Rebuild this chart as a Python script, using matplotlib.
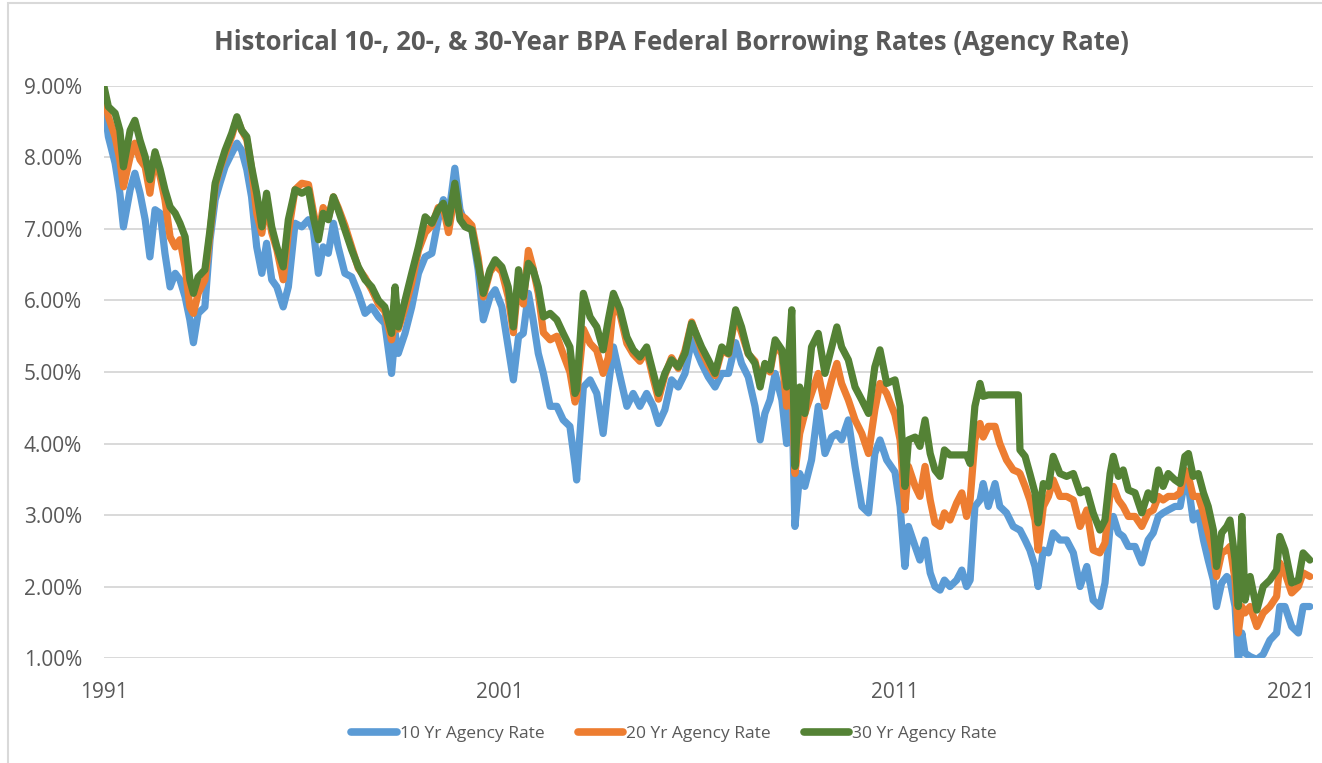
# Historical 10-, 20-, 30-year BPA federal borrowing rates (agency rate)
import matplotlib
matplotlib.use("Agg")
import matplotlib.pyplot as plt
from matplotlib.ticker import FuncFormatter, FixedLocator
from matplotlib.patches import Rectangle

years = [
    1991.00, 1991.11, 1991.28, 1991.40, 1991.49, 1991.66, 1991.78, 1991.91,
    1992.04, 1992.16, 1992.29, 1992.42, 1992.54, 1992.67, 1992.80, 1992.92,
    1993.05, 1993.17, 1993.26, 1993.38, 1993.55, 1993.68, 1993.81, 1993.93,
    1994.06, 1994.23, 1994.36, 1994.48, 1994.61, 1994.73, 1994.86, 1994.99,
    1995.11, 1995.24, 1995.37, 1995.53, 1995.66, 1995.83, 1996.00,
    1996.17, 1996.29, 1996.42, 1996.54, 1996.67, 1996.80, 1996.92,
    1997.09, 1997.26, 1997.43, 1997.60, 1997.77, 1997.94,
    1998.10, 1998.27, 1998.36, 1998.44, 1998.61, 1998.78, 1998.95,
    1999.12, 1999.29, 1999.45, 1999.58, 1999.71, 1999.87,
    2000.00, 2000.13, 2000.30, 2000.46, 2000.59, 2000.76, 2000.89,
    2001.06, 2001.22, 2001.35, 2001.48, 2001.60, 2001.73, 2001.85, 2001.98,
    2002.11, 2002.28, 2002.45, 2002.61, 2002.78, 2002.91, 2002.95,
    2003.12, 2003.29, 2003.46, 2003.62, 2003.75, 2003.88,
    2004.05, 2004.22, 2004.38, 2004.55, 2004.72, 2004.89,
    2005.02, 2005.18, 2005.35, 2005.52, 2005.69, 2005.86,
    2006.11, 2006.28, 2006.45, 2006.62, 2006.79, 2006.97,
    2007.12, 2007.29, 2007.46, 2007.59, 2007.71, 2007.84, 2007.97,
    2008.14, 2008.26, 2008.39, 2008.47, 2008.59, 2008.72, 2008.89,
    2009.06, 2009.23, 2009.40, 2009.53, 2009.65, 2009.82, 2009.99,
    2010.16, 2010.33, 2010.49, 2010.62, 2010.79,
    2011.00, 2011.13, 2011.25, 2011.34, 2011.51, 2011.63, 2011.76, 2011.89,
    2012.01, 2012.14, 2012.25, 2012.39, 2012.56, 2012.69, 2012.81, 2012.90,
    2013.02, 2013.15, 2013.23, 2013.36, 2013.53, 2013.65, 2013.82, 2013.99,
    2014.12, 2014.16, 2014.29, 2014.41, 2014.54, 2014.62, 2014.75, 2014.88,
    2015.00, 2015.17, 2015.34, 2015.51, 2015.68, 2015.85, 2016.01,
    2016.18, 2016.31, 2016.44, 2016.52, 2016.65, 2016.77, 2016.90,
    2017.07, 2017.24, 2017.40, 2017.53, 2017.66, 2017.78, 2017.91,
    2018.08, 2018.21, 2018.33, 2018.42, 2018.54, 2018.67, 2018.80, 2018.92,
    2019.05, 2019.13, 2019.26, 2019.39, 2019.47, 2019.60, 2019.68, 2019.77,
    2019.85, 2019.98,
    2020.15, 2020.31, 2020.48, 2020.65, 2020.73, 2020.86,
    2021.03, 2021.20, 2021.32, 2021.49,
]

# rates in percent
rate_30yr = [
    8.99, 8.71, 8.62, 8.38, 7.87, 8.38, 8.52, 8.24,
    8.01, 7.69, 8.08, 7.83, 7.55, 7.31, 7.22, 7.08,
    6.89, 6.29, 6.10, 6.33, 6.43, 6.99, 7.64, 7.87,
    8.10, 8.34, 8.57, 8.38, 8.29, 7.87, 7.50, 7.03,
    7.50, 7.03, 6.75, 6.47, 7.13, 7.55, 7.50,
    7.55, 7.17, 6.85, 7.22, 7.13, 7.45, 7.27,
    6.99, 6.71, 6.47, 6.29, 6.19, 6.00,
    5.91, 5.54, 6.19, 5.63, 6.00, 6.38, 6.75,
    7.17, 7.08, 7.27, 7.36, 7.08, 7.64,
    7.13, 7.03, 6.99, 6.52, 6.10, 6.43, 6.57,
    6.47, 6.19, 5.63, 6.43, 6.05, 6.52, 6.43, 6.19,
    5.77, 5.82, 5.73, 5.54, 5.35, 4.70, 4.75,
    6.10, 5.77, 5.63, 5.31, 5.73, 6.10,
    5.87, 5.49, 5.31, 5.21, 5.35, 4.98,
    4.70, 4.98, 5.17, 5.07, 5.26, 5.68,
    5.35, 5.17, 4.98, 5.35, 5.26, 5.87,
    5.63, 5.26, 5.12, 4.79, 5.12, 5.03, 5.45,
    5.31, 4.79, 5.87, 3.68, 4.79, 4.42, 5.35,
    5.54, 4.98, 5.35, 5.63, 5.35, 5.17, 4.79,
    4.61, 4.42, 5.07, 5.31, 4.84,
    4.89, 4.52, 3.40, 4.05, 4.09, 3.96, 4.33, 3.86,
    3.63, 3.54, 3.91, 3.84, 3.84, 3.84, 3.84, 3.72,
    4.52, 4.84, 4.66, 4.68, 4.68, 4.68, 4.68, 4.68,
    4.68, 3.91, 3.82, 3.58, 3.31, 2.89, 3.44, 3.40,
    3.82, 3.58, 3.54, 3.58, 3.31, 3.35, 3.03,
    2.79, 2.93, 3.58, 3.82, 3.54, 3.63, 3.35,
    3.31, 3.03, 3.31, 3.21, 3.63, 3.40, 3.58,
    3.49, 3.44, 3.82, 3.86, 3.54, 3.58, 3.31, 3.12,
    2.79, 2.28, 2.75, 2.84, 2.93, 2.37, 1.72, 2.98,
    1.81, 2.14,
    1.67, 2.00, 2.09, 2.23, 2.70, 2.51,
    2.05, 2.09, 2.47, 2.37,
]

rate_20yr = [
    8.90, 8.57, 8.29, 7.97, 7.59, 8.01, 8.20, 7.97,
    7.87, 7.50, 8.05, 7.73, 7.41, 6.89, 6.75, 6.85,
    6.47, 5.91, 5.82, 6.10, 6.29, 6.95, 7.60, 7.85,
    8.05, 8.30, 8.55, 8.38, 8.25, 7.85, 7.22, 6.94,
    7.40, 6.95, 6.71, 6.29, 6.95, 7.55, 7.64,
    7.62, 7.25, 6.90, 7.30, 7.15, 7.45, 7.30,
    7.05, 6.75, 6.45, 6.32, 6.15, 5.95,
    5.85, 5.45, 5.70, 5.60, 5.90, 6.25, 6.70,
    6.95, 7.05, 7.30, 7.30, 6.95, 7.50,
    7.20, 7.15, 7.05, 6.60, 6.05, 6.40, 6.50,
    6.40, 6.05, 5.55, 6.30, 5.95, 6.70, 6.45, 6.10,
    5.55, 5.45, 5.50, 5.25, 5.00, 4.58, 4.65,
    5.60, 5.40, 5.30, 4.98, 5.20, 5.96,
    5.80, 5.40, 5.25, 5.15, 5.30, 4.90,
    4.62, 4.95, 5.20, 5.05, 5.30, 5.70,
    5.30, 5.10, 4.95, 5.30, 5.25, 5.80,
    5.55, 5.25, 5.15, 4.85, 5.10, 5.00, 5.40,
    5.25, 4.52, 5.00, 3.58, 4.14, 4.42, 4.70,
    4.98, 4.52, 4.89, 5.12, 4.84, 4.61, 4.33,
    4.14, 3.86, 4.47, 4.84, 4.70,
    4.40, 4.05, 3.07, 3.68, 3.40, 3.26, 3.68, 3.21,
    2.89, 2.84, 3.03, 2.93, 3.17, 3.31, 2.98, 3.21,
    4.05, 4.28, 4.09, 4.24, 4.24, 4.00, 3.77, 3.63,
    3.60, 3.58, 3.40, 3.21, 2.93, 2.51, 3.12, 3.26,
    3.49, 3.26, 3.26, 3.21, 2.84, 3.07, 2.51,
    2.47, 2.61, 3.31, 3.40, 3.21, 3.12, 2.98,
    2.98, 2.84, 3.03, 3.07, 3.26, 3.21, 3.26,
    3.26, 3.31, 3.63, 3.54, 3.26, 3.26, 3.03, 2.75,
    2.47, 2.14, 2.47, 2.51, 2.56, 2.09, 1.35, 1.72,
    1.63, 1.72,
    1.44, 1.63, 1.72, 1.86, 2.33, 2.19,
    1.91, 2.00, 2.19, 2.14,
]

rate_10yr = [
    8.76, 8.29, 7.92, 7.50, 7.03, 7.55, 7.78, 7.50,
    7.13, 6.61, 7.27, 7.22, 6.66, 6.19, 6.38, 6.29,
    6.05, 5.73, 5.41, 5.82, 5.91, 6.85, 7.41, 7.64,
    7.87, 8.06, 8.20, 8.10, 7.83, 7.45, 6.75, 6.38,
    6.80, 6.29, 6.19, 5.91, 6.19, 7.08, 7.03,
    7.13, 6.99, 6.38, 6.75, 6.66, 7.08, 6.75,
    6.38, 6.33, 6.10, 5.82, 5.91, 5.77,
    5.68, 4.98, 5.54, 5.26, 5.54, 5.91, 6.38,
    6.61, 6.66, 7.13, 7.41, 7.17, 7.85,
    7.27, 7.08, 6.99, 6.43, 5.73, 6.05, 6.15,
    5.91, 5.35, 4.89, 5.49, 5.54, 6.10, 5.73, 5.26,
    4.98, 4.52, 4.52, 4.33, 4.24, 3.70, 3.49,
    4.79, 4.89, 4.70, 4.14, 4.79, 5.35,
    4.93, 4.52, 4.70, 4.52, 4.70, 4.52,
    4.28, 4.47, 4.89, 4.79, 4.98, 5.45,
    5.12, 4.93, 4.79, 4.98, 4.98, 5.41,
    5.12, 4.93, 4.52, 4.05, 4.42, 4.61, 4.98,
    4.61, 4.00, 4.75, 2.84, 3.58, 3.40, 3.77,
    4.52, 3.86, 4.09, 4.14, 4.05, 4.33, 3.68,
    3.12, 3.03, 3.86, 4.05, 3.77,
    3.60, 3.12, 2.28, 2.84, 2.56, 2.37, 2.65, 2.19,
    2.00, 1.95, 2.09, 2.00, 2.09, 2.23, 2.00, 2.09,
    3.12, 3.21, 3.44, 3.12, 3.44, 3.12, 3.03, 2.84,
    2.80, 2.79, 2.65, 2.51, 2.28, 2.00, 2.51, 2.47,
    2.75, 2.65, 2.65, 2.47, 2.00, 2.28, 1.81,
    1.72, 2.05, 2.84, 2.98, 2.75, 2.70, 2.56,
    2.56, 2.33, 2.65, 2.75, 2.98, 3.03, 3.07,
    3.12, 3.12, 3.49, 3.40, 2.93, 3.03, 2.65, 2.37,
    2.09, 1.72, 2.05, 2.14, 2.09, 1.72, 0.95, 1.35,
    1.07, 1.02,
    0.98, 1.05, 1.25, 1.35, 1.72, 1.72,
    1.44, 1.35, 1.72, 1.72,
]

series_names = ["10 Yr Agency Rate", "20 Yr Agency Rate", "30 Yr Agency Rate"]
series_colors = ["#5B9BD5", "#ED7D31", "#548235"]
y_ticks = [1, 2, 3, 4, 5, 6, 7, 8, 9]
x_ticks = [1991, 2001, 2011, 2021]

assert len(years) == len(rate_10yr) == len(rate_20yr) == len(rate_30yr)

plt.rcParams["font.family"] = ["Open Sans", "DejaVu Sans"]
txt_col = "#595959"
grid_col = "#D9D9D9"

fig = plt.figure(figsize=(13.22, 7.63), dpi=100)
ax = fig.add_axes([0.0787, 0.1376, 0.9145, 0.7497])

for vals, name, col in zip([rate_10yr, rate_20yr, rate_30yr], series_names, series_colors):
    ax.plot(years, vals, color=col, lw=5.2, label=name,
            solid_joinstyle="round", solid_capstyle="round", zorder=3)

ax.set_xlim(1991.0, 2021.57)
ax.set_ylim(1, 9)
ax.yaxis.set_major_locator(FixedLocator(y_ticks))
ax.yaxis.set_major_formatter(FuncFormatter(lambda v, p: "%.2f%%" % v))
ax.xaxis.set_major_locator(FixedLocator(x_ticks))
ax.grid(axis="y", color=grid_col, lw=1.4, zorder=0)
for s in ax.spines.values():
    s.set_visible(False)
ax.tick_params(axis="both", length=0, labelsize=15, colors=txt_col)
ax.tick_params(axis="y", pad=16)
ax.tick_params(axis="x", pad=17)

fig.text(0.508, 0.944, "Historical 10-, 20-, & 30-Year BPA Federal Borrowing Rates (Agency Rate)",
         ha="center", va="center", fontsize=18.5, fontweight="bold", color=txt_col)

leg = fig.legend(loc="center", bbox_to_anchor=(0.51, 0.038), ncol=3, frameon=False,
                 fontsize=12.5, handlelength=2.6, columnspacing=1.9, handletextpad=0.2)
for t in leg.get_texts():
    t.set_color(txt_col)
for h in leg.get_lines():
    h.set_linewidth(5.5)

# chart area border
fig.add_artist(Rectangle((0.006, -0.02), 1.2, 1.016, transform=fig.transFigure,
                         fill=False, edgecolor=grid_col, lw=1.5))

fig.savefig("out.png", dpi=100)
